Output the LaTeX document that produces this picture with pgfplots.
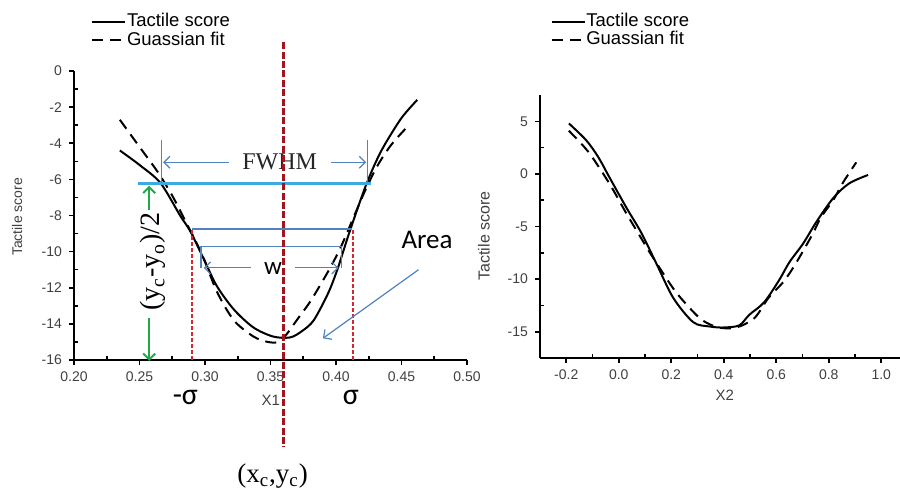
\documentclass[border=0pt]{standalone}
\usepackage{fontspec}
\setmainfont{Liberation Sans}
\newfontfamily\timesf{Liberation Serif}
\newfontfamily\carl{Carlito}
\usepackage{pgfplots}
\pgfplotsset{compat=1.18}
\usetikzlibrary{arrows.meta}

\definecolor{redD}{RGB}{165,20,30}
\definecolor{redL}{RGB}{210,40,50}
\definecolor{steel}{RGB}{80,130,190}
\definecolor{cyanC}{RGB}{60,170,225}
\definecolor{greenC}{RGB}{30,170,70}

\begin{document}
\begin{tikzpicture}
\useasboundingbox (0pt,0pt) rectangle (450pt,247.5pt);

\pgfplotsset{
  base/.style={
    scale only axis, axis lines=left,
    axis line style={line width=1pt, -},
    tick align=outside,
    major tick length=2.5pt, minor tick length=2pt,
    tick style={black, line width=0.8pt},
    minor x tick style={yshift=2pt}, minor y tick style={xshift=2pt},
    tick label style={font=\fontsize{7}{8}\selectfont, text=black!75},
    /pgf/number format/assume math mode=true,
    label style={text=black!75},
    clip=false,
    legend style={draw=none, fill=none, font=\fontsize{9.25}{9}\selectfont,
                  legend cell align=left, anchor=north west,
                  nodes={inner sep=0.3pt, text height=6.8pt, text depth=1.8pt}},
    legend image code/.code={\draw[##1] (0pt,0pt) -- (16.5pt,0pt);},
  },
  solidc/.style={black, line width=1pt, smooth},
  dashc/.style={black, line width=1pt, smooth, dash pattern=on 5.5pt off 3.5pt},
}

% ---- left panel ----
\begin{axis}[base, at={(37pt,67.5pt)}, anchor=south west,
    width=196.5pt, height=144.5pt,
    xmin=0.2, xmax=0.5, ymin=-16, ymax=0,
    xtick={0.2,0.25,0.3,0.35,0.4,0.45,0.5},
    ytick={-16,-14,-12,-10,-8,-6,-4,-2,0},
    minor x tick num=1, minor y tick num=1,
    xticklabel style={/pgf/number format/.cd, fixed, fixed zerofill, precision=2},
    xlabel={X1}, ylabel={Tactile score},
    xlabel style={at={(axis description cs:0.501,-0.138)}, anchor=center, font=\fontsize{7.5}{8}\selectfont},
    ylabel style={at={(axis description cs:-0.145,0.495)}, anchor=center, font=\fontsize{7}{8}\selectfont},
    legend style={at={(axis description cs:0.028,1.218)}},
  ]
  \addplot[solidc] coordinates {
    (0.235,-4.4) (0.25,-5.2) (0.266,-6.2) (0.281,-8.0) (0.289,-8.9) (0.299,-10.4)
    (0.309,-11.9) (0.322,-13.2) (0.337,-14.2) (0.352,-14.7) (0.365,-14.75) (0.374,-14.4)
    (0.383,-13.8) (0.394,-12.3) (0.401,-11.0) (0.409,-9.2) (0.417,-7.5) (0.423,-6.3)
    (0.43,-5.1) (0.437,-4.1) (0.45,-2.6) (0.462,-1.6)};
  \addlegendentry{Tactile score}
  \addplot[dashc] coordinates {
    (0.235,-2.7) (0.25,-4.2) (0.264,-5.6) (0.275,-6.9) (0.285,-8.3) (0.298,-10.2)
    (0.309,-12.2) (0.322,-13.8) (0.337,-14.7) (0.348,-15.0) (0.356,-15.0) (0.362,-14.6)
    (0.37,-13.8) (0.38,-12.8) (0.39,-11.6) (0.397,-10.7) (0.404,-9.7) (0.414,-8.0)
    (0.423,-6.5) (0.432,-5.2) (0.442,-4.1) (0.453,-3.2)};
  \addlegendentry{Guassian fit}

  % annotations
  \draw[redL, line width=0.8pt, dash pattern=on 2pt off 1pt] (axis cs:0.290,-16) -- (axis cs:0.290,-8.75);
  \draw[redL, line width=0.8pt, dash pattern=on 2pt off 1pt] (axis cs:0.413,-16) -- (axis cs:0.413,-8.75);
  \draw[cyanC, line width=1.3pt] (axis cs:0.249,-6.22) -- (axis cs:0.4265,-6.22);
  \draw[steel, line width=0.6pt] (axis cs:0.267,-3.8) -- (axis cs:0.267,-6.2);
  \draw[steel, line width=0.6pt] (axis cs:0.424,-3.8) -- (axis cs:0.424,-6.2);
  \draw[steel, line width=0.6pt, -{Straight Barb[length=3pt,width=6pt]}] (axis cs:0.318,-5.05) -- (axis cs:0.268,-5.05);
  \draw[steel, line width=0.6pt, -{Straight Barb[length=3pt,width=6pt]}] (axis cs:0.396,-5.05) -- (axis cs:0.423,-5.05);
  \node[font=\timesf\fontsize{12}{12}\selectfont, text=black!85] at (axis cs:0.357,-5.05) {FWHM};
  \draw[steel, line width=0.9pt] (axis cs:0.290,-8.75) -- (axis cs:0.412,-8.75);
  \draw[steel, line width=0.6pt] (axis cs:0.297,-9.7) -- (axis cs:0.404,-9.7);
  \draw[steel, line width=0.6pt] (axis cs:0.297,-9.7) -- (axis cs:0.297,-10.9);
  \draw[steel, line width=0.6pt] (axis cs:0.404,-9.7) -- (axis cs:0.404,-10.9);
  \draw[steel, line width=0.6pt, -{Straight Barb[length=3pt,width=6pt]}] (axis cs:0.335,-10.9) -- (axis cs:0.299,-10.9);
  \draw[steel, line width=0.6pt, -{Straight Barb[length=3pt,width=6pt]}] (axis cs:0.369,-10.9) -- (axis cs:0.402,-10.9);
  \node[font=\carl\fontsize{12.5}{12}\selectfont] at (axis cs:0.352,-10.95) {w};
  \draw[steel, line width=0.6pt, -{Straight Barb[length=3pt,width=6pt]}] (axis cs:0.463,-11.0) -- (axis cs:0.390,-14.8);
  \node[font=\carl\fontsize{13.5}{14}\selectfont] at (axis cs:0.4695,-9.35) {Area};
  \draw[greenC, line width=1pt, -{Straight Barb[length=3pt,width=6pt]}] (axis cs:0.2574,-7.7) -- (axis cs:0.2574,-6.35);
  \draw[greenC, line width=1pt, -{Straight Barb[length=3pt,width=6pt]}] (axis cs:0.2574,-13.7) -- (axis cs:0.2574,-16.05);
  \node[rotate=90, font=\timesf\fontsize{14}{14}\selectfont] at (axis cs:0.2605,-10.55) {(y\textsubscript{c}-y\textsubscript{o})/2};
  \node[font=\carl\fontsize{15}{15}\selectfont] at (axis cs:0.285,-18.07) {-σ};
  \node[font=\carl\fontsize{15}{15}\selectfont] at (axis cs:0.4113,-18.07) {σ};
  \node[font=\timesf\fontsize{13.5}{14}\selectfont] at (axis cs:0.3516,-22.4) {(x\textsubscript{c},y\textsubscript{c})};
  \draw[redD, line width=1.5pt, dash pattern=on 3.5pt off 1.2pt] (axis cs:0.36,1.6) -- (axis cs:0.36,-20.8);
\end{axis}

% ---- right panel ----
\begin{axis}[base, at={(270pt,68.5pt)}, anchor=south west,
    width=179.8pt, height=131.5pt,
    xmin=-0.3, xmax=1.07, ymin=-17.5, ymax=7.5,
    xtick={-0.2,0,0.2,0.4,0.6,0.8,1.0},
    ytick={-15,-10,-5,0,5},
    minor x tick num=1, minor y tick num=1,
    xticklabel style={/pgf/number format/.cd, fixed, fixed zerofill, precision=1},
    xlabel={X2}, ylabel={Tactile score},
    xlabel style={at={(axis description cs:0.514,-0.141)}, anchor=center, font=\fontsize{7.5}{8}\selectfont},
    ylabel style={at={(axis description cs:-0.156,0.464)}, anchor=center, font=\fontsize{8}{9}\selectfont},
    legend style={at={(axis description cs:0.012,1.331)}},
  ]
  \addplot[solidc] coordinates {
    (-0.19,4.8) (-0.124,3.2) (-0.078,1.6) (-0.036,-0.3) (0.029,-3.2) (0.086,-5.6)
    (0.143,-8.5) (0.208,-11.8) (0.284,-14.1) (0.345,-14.5) (0.398,-14.6) (0.459,-14.4)
    (0.497,-13.4) (0.554,-12.2) (0.611,-10.1) (0.65,-8.4) (0.703,-6.6) (0.752,-4.6)
    (0.817,-2.3) (0.878,-0.9) (0.95,-0.1)};
  \addlegendentry{Tactile score}
  \addplot[dashc] coordinates {
    (-0.19,4.1) (-0.116,2.1) (-0.036,-0.9) (0.03,-3.8) (0.09,-6.3) (0.124,-7.7)
    (0.208,-10.9) (0.265,-12.6) (0.318,-13.9) (0.38,-14.6) (0.448,-14.6) (0.517,-13.7)
    (0.57,-11.8) (0.626,-10.3) (0.665,-8.9) (0.703,-7.3) (0.741,-5.6) (0.771,-4.1)
    (0.817,-2.5) (0.855,-0.8) (0.905,1.1)};
  \addlegendentry{Guassian fit}
\end{axis}
\end{tikzpicture}
\end{document}
